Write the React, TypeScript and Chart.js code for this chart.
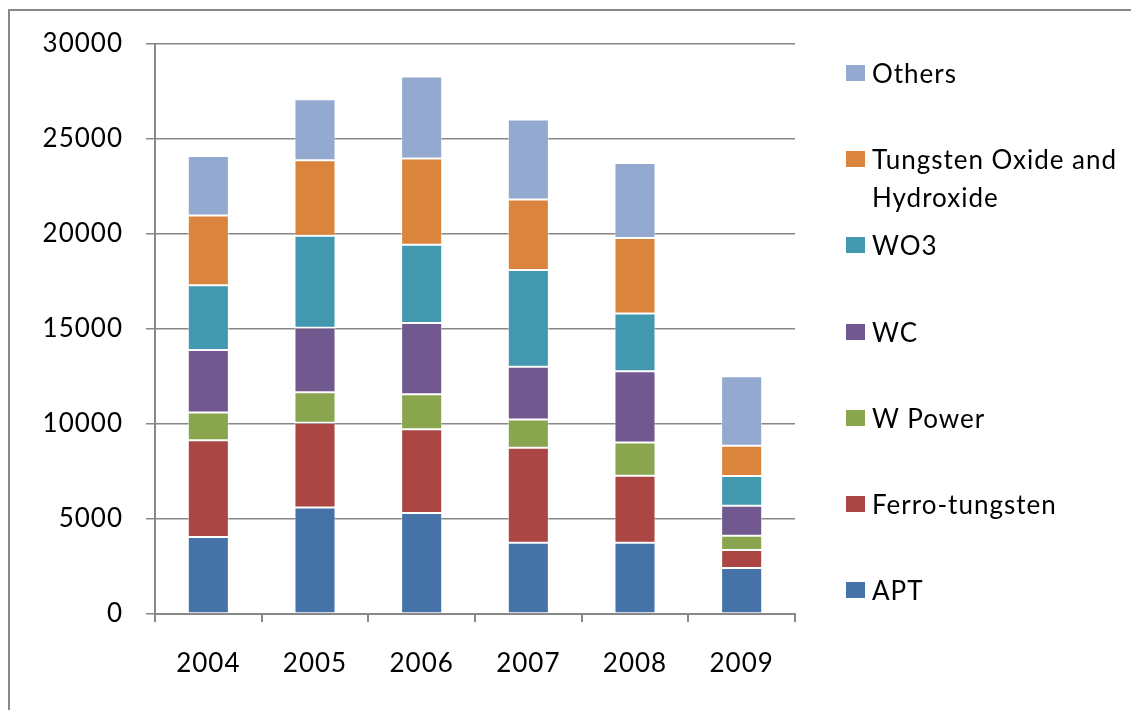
import React, { useEffect, useRef } from "react";
import { Chart, registerables } from "chart.js";

Chart.register(...registerables);

const categories = ["2004", "2005", "2006", "2007", "2008", "2009"];
const apt = [4050, 5600, 5320, 3750, 3750, 2420];
const ferroTungsten = [5100, 4470, 4410, 5000, 3530, 950];
const wPower = [1450, 1600, 1840, 1490, 1740, 750];
const wc = [3300, 3400, 3740, 2770, 3750, 1580];
const wo3 = [3400, 4840, 4130, 5100, 3050, 1560];
const tungstenOxide = [3680, 3970, 4540, 3700, 3970, 1600];
const others = [3120, 3210, 4310, 4210, 3950, 3650];

const seriesNames = ["APT", "Ferro-tungsten", "W Power", "WC", "WO3", "Tungsten Oxide and Hydroxide", "Others"];
const seriesValues = [apt, ferroTungsten, wPower, wc, wo3, tungstenOxide, others];
const seriesColors = ["#4572A7", "#AA4643", "#89A54E", "#71588F", "#4198AF", "#DB843D", "#93A9CF"];

const yMax = 30000;
const yStep = 5000;

const GRAY = "#878787";
const FONT = "Lato";

const spacingPlugin = {
  id: "letterSpacing",
  beforeDraw(chart: any) {
    try {
      chart.ctx.letterSpacing = "1px";
    } catch (e) {}
  },
};

export default function App() {
  const canvasRef = useRef<HTMLCanvasElement | null>(null);

  useEffect(() => {
    if (!canvasRef.current) return;
    const chart = new Chart(canvasRef.current, {
      type: "bar",
      data: {
        labels: categories,
        datasets: seriesNames.map((name, i) => ({
          label: name,
          data: seriesValues[i],
          backgroundColor: seriesColors[i],
          borderColor: "rgba(255,255,255,0.55)",
          borderWidth: 1,
          borderSkipped: false,
          barPercentage: 0.385,
          categoryPercentage: 1,
        })),
      },
      plugins: [spacingPlugin],
      options: {
        animation: false,
        responsive: false,
        maintainAspectRatio: false,
        layout: { padding: { left: 0, top: 44, right: 336, bottom: 0 } },
        plugins: {
          legend: { display: false },
          tooltip: { enabled: false },
          title: { display: false },
        },
        scales: {
          x: {
            stacked: true,
            afterFit: (axis: any) => {
              axis.height = 96;
            },
            grid: {
              display: true,
              drawOnChartArea: false,
              drawTicks: true,
              tickLength: 8,
              color: GRAY,
              lineWidth: 2,
              offset: true,
            },
            border: { display: true, color: GRAY, width: 2 },
            ticks: {
              color: "#000",
              font: { family: FONT, size: 26 },
              padding: 26,
              maxRotation: 0,
            },
          },
          y: {
            stacked: true,
            min: 0,
            max: yMax,
            afterFit: (axis: any) => {
              axis.width = 155;
            },
            grid: {
              display: true,
              drawOnChartArea: true,
              drawTicks: true,
              tickLength: 9,
              color: GRAY,
              lineWidth: 1.5,
            },
            border: { display: true, color: GRAY, width: 2 },
            ticks: {
              stepSize: yStep,
              color: "#000",
              font: { family: FONT, size: 26 },
              padding: 23,
              callback: (v: any) => String(v),
            },
          },
        },
      },
    });
    return () => chart.destroy();
  }, []);

  const legendOrder = seriesNames.map((_, i) => i).reverse();

  return (
    <div style={{ position: "fixed", left: 0, top: 0, width: 1131, height: 710, background: "#fff", overflow: "hidden" }}>
      <div
        style={{
          position: "absolute",
          left: 8,
          top: 9,
          width: 1200,
          height: 800,
          borderLeft: `2px solid ${GRAY}`,
          borderTop: `2px solid ${GRAY}`,
        }}
      />
      <canvas ref={canvasRef} width={1131} height={710} style={{ position: "absolute", left: 0, top: 0, width: 1131, height: 710 }} />
      {legendOrder.map((idx, k) => {
        const cy = 73 + k * 86.2;
        return (
          <React.Fragment key={idx}>
            <div
              style={{
                position: "absolute",
                left: 846,
                top: cy - 8,
                width: 19,
                height: 16,
                background: seriesColors[idx],
              }}
            />
            <div
              style={{
                position: "absolute",
                left: 872,
                top: cy - 19,
                width: 258,
                fontFamily: FONT,
                fontSize: 26,
                letterSpacing: "1px",
                lineHeight: "38px",
                color: "#000",
              }}
            >
              {seriesNames[idx]}
            </div>
          </React.Fragment>
        );
      })}
    </div>
  );
}
